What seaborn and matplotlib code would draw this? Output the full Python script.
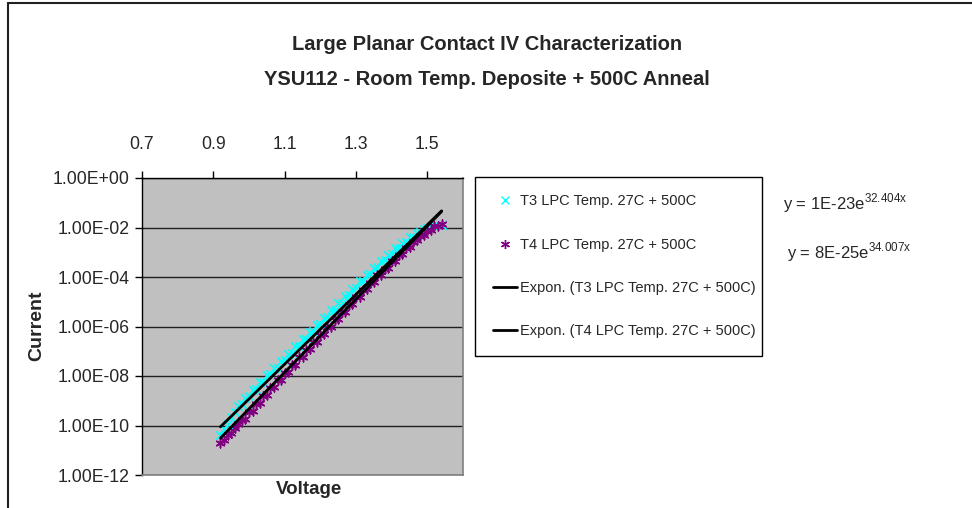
import numpy as np
import matplotlib.pyplot as plt
import seaborn as sns
from matplotlib.lines import Line2D
from matplotlib.ticker import FixedLocator, NullLocator

# Style
sns.set_style("white")
plt.rcParams['font.family'] = ['Liberation Sans', 'DejaVu Sans']
plt.rcParams['mathtext.fontset'] = 'custom'
plt.rcParams['mathtext.rm'] = 'Liberation Sans'

# Data
voltage = [0.92, 0.93, 0.94, 0.95, 0.96, 0.97, 0.98, 0.99, 1.00, 1.01,
           1.02, 1.03, 1.04, 1.05, 1.06, 1.07, 1.08, 1.09, 1.10, 1.11,
           1.12, 1.13, 1.14, 1.15, 1.16, 1.17, 1.18, 1.19, 1.20, 1.21,
           1.22, 1.23, 1.24, 1.25, 1.26, 1.27, 1.28, 1.29, 1.30, 1.31,
           1.32, 1.33, 1.34, 1.35, 1.36, 1.37, 1.38, 1.39, 1.40, 1.41,
           1.42, 1.43, 1.44, 1.45, 1.46, 1.47, 1.48, 1.49, 1.50, 1.51,
           1.52, 1.53, 1.54]

t3_current = [4.0e-11, 7.4e-11, 1.2e-10, 2.2e-10, 3.4e-10, 5.9e-10, 7.4e-10, 1.3e-9, 1.5e-9, 2.7e-9,
              3.0e-9, 5.5e-9, 5.9e-9, 1.1e-8, 1.15e-8, 2.1e-8, 2.2e-8, 4.2e-8, 4.3e-8, 8.1e-8,
              8.3e-8, 1.6e-7, 1.62e-7, 3.1e-7, 3.2e-7, 6.2e-7, 6.3e-7, 1.2e-6, 1.23e-6, 2.3e-6,
              2.4e-6, 4.6e-6, 4.7e-6, 8.9e-6, 9.1e-6, 1.7e-5, 1.8e-5, 3.3e-5, 3.5e-5, 6.6e-5,
              6.9e-5, 1.26e-4, 1.32e-4, 2.4e-4, 2.5e-4, 4.5e-4, 4.7e-4, 8.1e-4, 8.5e-4, 1.45e-3,
              1.5e-3, 2.45e-3, 2.6e-3, 4.1e-3, 4.3e-3, 6.2e-3, 6.5e-3, 8.7e-3, 9.3e-3, 1.1e-2,
              1.15e-2, 1.3e-2, 1.3e-2]

t4_current = [2.0e-11, 2.6e-11, 4.1e-11, 5.2e-11, 8.0e-11, 1.1e-10, 1.6e-10, 1.9e-10, 3.4e-10, 4.0e-10,
              7.4e-10, 8.1e-10, 1.6e-9, 1.7e-9, 3.3e-9, 3.5e-9, 6.8e-9, 7.1e-9, 1.35e-8, 1.45e-8,
              2.75e-8, 2.9e-8, 5.6e-8, 5.9e-8, 1.1e-7, 1.2e-7, 2.3e-7, 2.4e-7, 4.7e-7, 4.8e-7,
              9.3e-7, 9.8e-7, 1.9e-6, 1.95e-6, 3.7e-6, 4.0e-6, 7.4e-6, 7.8e-6, 1.5e-5, 1.6e-5,
              3.0e-5, 3.2e-5, 5.8e-5, 6.2e-5, 1.15e-4, 1.23e-4, 2.2e-4, 2.3e-4, 4.3e-4, 4.6e-4,
              7.9e-4, 8.7e-4, 1.5e-3, 1.7e-3, 2.6e-3, 3.0e-3, 4.6e-3, 4.9e-3, 7.2e-3, 7.9e-3,
              1.1e-2, 1.1e-2, 1.4e-2]

# Exponential trendline coefficients shown on the chart: y = a * exp(b * x)
t3_fit = (1e-23, 32.404)
t4_fit = (8e-25, 34.007)

series_labels = ['T3 LPC Temp. 27C + 500C', 'T4 LPC Temp. 27C + 500C']
fit_labels = ['Expon. (T3 LPC Temp. 27C + 500C)', 'Expon. (T4 LPC Temp. 27C + 500C)']
x_ticks = [0.7, 0.9, 1.1, 1.3, 1.5]
y_ticks = [1e0, 1e-2, 1e-4, 1e-6, 1e-8, 1e-10, 1e-12]
y_tick_labels = ['1.00E+00', '1.00E-02', '1.00E-04', '1.00E-06', '1.00E-08', '1.00E-10', '1.00E-12']

# Figure
W, H = 972, 508
fig = plt.figure(figsize=(W / 100, H / 100), dpi=100)
ax = fig.add_axes([142 / W, 1 - 475 / H, (463 - 142) / W, (475 - 178) / H])
ax.set_facecolor('#C0C0C0')

sns.scatterplot(x=voltage, y=t3_current, ax=ax, marker='x', color='#00FFFF',
                s=36, linewidth=1.2, zorder=3)
sns.scatterplot(x=voltage, y=t4_current, ax=ax, marker=(6, 2, 0), color='#800080',
                s=40, linewidth=1.1, zorder=3)

v = np.array(voltage)
fit3 = t3_fit[0] * np.exp(t3_fit[1] * v)
fit4 = t4_fit[0] * np.exp(t4_fit[1] * v)
sns.lineplot(x=v, y=fit3, ax=ax, color='black', linewidth=2.0, zorder=4)
sns.lineplot(x=v, y=fit4, ax=ax, color='black', linewidth=2.0, zorder=4)

ax.set_yscale('log')
ax.set_xlim(0.7, 1.6)
ax.set_ylim(1e-12, 1)

# Axes: x on top, log y with 2-decade majors
ax.xaxis.tick_top()
ax.set_xticks(x_ticks)
ax.set_xticklabels([f'{t:.1f}' for t in x_ticks])
ax.yaxis.set_major_locator(FixedLocator(y_ticks))
ax.yaxis.set_minor_locator(NullLocator())
ax.set_yticklabels(y_tick_labels)
ax.tick_params(axis='both', which='major', direction='out', length=5, width=1,
               color='black', labelsize=12.7, pad=4)
ax.tick_params(axis='x', top=True, bottom=False, pad=13)
ax.tick_params(axis='y', left=True, right=False)

ax.grid(axis='y', which='major', color='#202020', linewidth=1.0)
ax.set_axisbelow(True)

for side in ['left', 'top']:
    ax.spines[side].set_color('black')
    ax.spines[side].set_linewidth(1.0)
for side in ['right', 'bottom']:
    ax.spines[side].set_color('#808080')
    ax.spines[side].set_linewidth(1.2)

ax.set_xlabel('')
ax.set_ylabel('')
fig.text(309 / W, 1 - 489 / H, 'Voltage', ha='center', va='center',
         fontsize=13.5, fontweight='bold')
fig.text(37 / W, 1 - 326 / H, 'Current', ha='center', va='center', rotation=90,
         fontsize=14, fontweight='bold')

# Titles
fig.text(487 / W, 1 - 45 / H, 'Large Planar Contact IV Characterization',
         ha='center', va='center', fontsize=14.5, fontweight='bold')
fig.text(487 / W, 1 - 80 / H, 'YSU112 - Room Temp. Deposite + 500C Anneal',
         ha='center', va='center', fontsize=14.5, fontweight='bold')

# Legend
handles = [
    Line2D([], [], linestyle='none', marker='x', color='#00FFFF', markersize=6, markeredgewidth=1.0),
    Line2D([], [], linestyle='none', marker=(6, 2, 0), color='#800080', markersize=6.5, markeredgewidth=1.0),
    Line2D([], [], color='black', linewidth=2.0),
    Line2D([], [], color='black', linewidth=2.0),
]
leg = ax.legend(handles, series_labels + fit_labels, loc='upper left', mode='expand',
                bbox_to_anchor=(475 / W, 1 - 354 / H, (762 - 475) / W, (354 - 177) / H),
                bbox_transform=fig.transFigure,
                borderaxespad=0, fontsize=10.5, frameon=True, fancybox=False,
                edgecolor='black', facecolor='white', framealpha=1,
                handlelength=1.7, handletextpad=0.2, labelspacing=2.0, borderpad=1.2)
leg.get_frame().set_linewidth(1.0)

# Trendline equations
fig.text(783 / W, 1 - 203 / H, r'y = 1E-23e$^{\mathrm{32.404x}}$', ha='left', va='center', fontsize=12)
fig.text(787 / W, 1 - 252 / H, r'y = 8E-25e$^{\mathrm{34.007x}}$', ha='left', va='center', fontsize=12)

# Outer chart frame (left and top edges visible)
fig.add_artist(Line2D([7.5 / W, 7.5 / W], [0, 1 - 2.5 / H], transform=fig.transFigure,
                      color='#202020', linewidth=1.5))
fig.add_artist(Line2D([7.5 / W, 1], [1 - 2.5 / H, 1 - 2.5 / H], transform=fig.transFigure,
                      color='#202020', linewidth=1.5))

fig.savefig('out.png', dpi=100, facecolor='white')
